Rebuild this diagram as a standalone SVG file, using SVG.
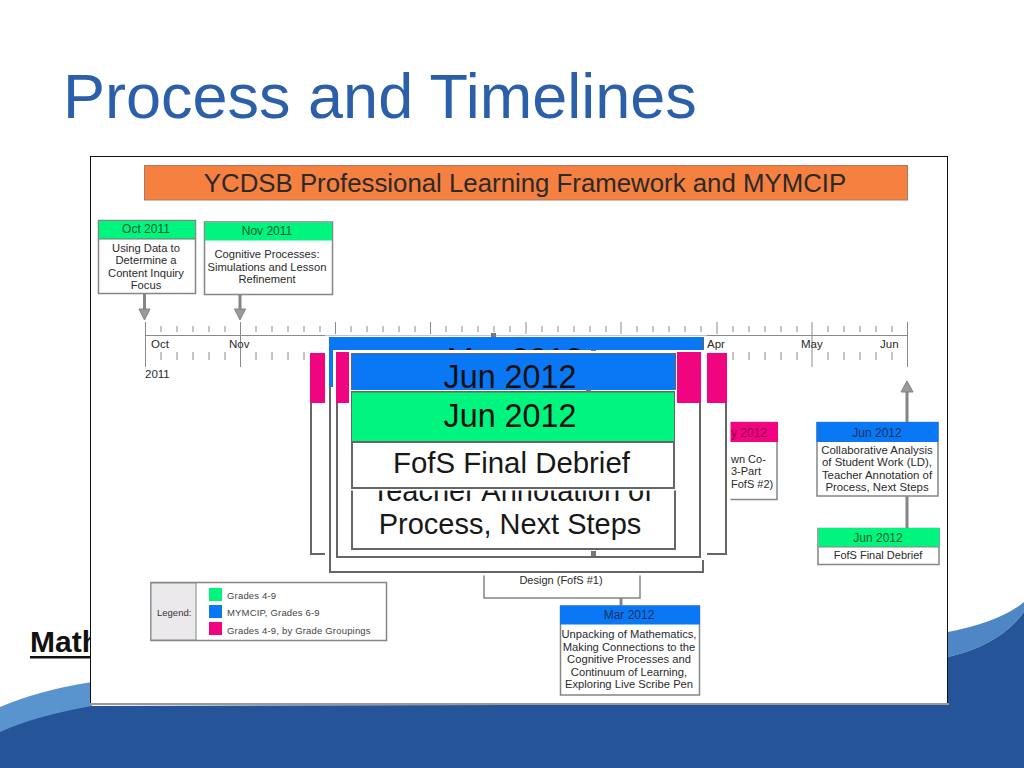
<svg xmlns="http://www.w3.org/2000/svg" width="1024" height="768" viewBox="0 0 1024 768">
<style>
text{font-family:"Liberation Sans",Arial,sans-serif;fill:#2a2a2a}
.c{text-anchor:middle}
.s{font-size:11.2px}
.t{font-size:11px}
.m{font-size:11.5px}
.h{font-size:12px;fill:#103060}
.hg{font-size:12px;fill:#0a5a30}
.hp{font-size:12px;fill:#900050}
.l{font-size:9.5px;letter-spacing:.18px;fill:#444}
.b{fill:#fff;stroke:#858585;stroke-width:1.5}
.bk{fill:#fff;stroke:#666;stroke-width:2}
.gr{fill:#00f57f}.bl{fill:#0a78f5}.pk{fill:#f0047f}
.big{font-size:32.300px;fill:#101010}
.mid{font-size:29px;fill:#181818}
.tick{stroke:#8a8a8a;stroke-width:1;fill:none}
.conn{stroke:#858585;stroke-width:3;fill:none}
.head{fill:#9a9a9a;stroke:#808080;stroke-width:1}
</style>
<rect width="1024" height="768" fill="#fff"/>
<g id="background">
<path d="M0 707Q40 690 92 682L92 712L0 735Z" fill="#5a94cf"/>
<path d="M948 632Q1000 622 1024 602L1024 612Q1000 645 948 657Z" fill="#4f86c6"/>
<path d="M0 732Q35 716 92 706L948 704L948 657Q1000 645 1024 612L1024 768L0 768Z" fill="#255499"/>
</g>
<text id="title" x="63" y="118" font-size="63" style="fill:#2b5fa9">Process and Timelines</text>
<g id="logo">
<text x="30" y="652" font-size="30" font-weight="700" style="fill:#111">Math</text>
<rect x="30" y="656" width="62" height="2.500" fill="#111"/>
</g>
<g id="panel">
<rect x="90.500" y="156.500" width="857" height="547" fill="#fff" stroke="#111" stroke-width="1"/>
<path d="M90 704H949" stroke="#999" stroke-width="2"/>
</g>
<g id="banner">
<rect x="144.500" y="165.500" width="763" height="34.500" fill="#f58040" stroke="#a87a60"/>
<text class="c" x="525" y="192" font-size="25.800">YCDSB Professional Learning Framework and MYMCIP</text>
</g>
<g id="timeline">
<path class="tick" d="M145 335.500H908M145.500 322V367M240.500 322V367M335.500 322V334M430.500 322V334M526 322V334M621 322V334M717 322V334M812 322V367M907.500 322V367"/>
<path class="tick" d="M161 326V332M177 326V332M193 326V332M209 326V332M225 326V332M256 326V332M272 326V332M288 326V332M304 326V332M320 326V332M351 326V332M367 326V332M383 326V332M399 326V332M415 326V332M446 326V332M462 326V332M478 326V332M494 326V332M510 326V332M542 326V332M558 326V332M574 326V332M590 326V332M606 326V332M637 326V332M653 326V332M669 326V332M685 326V332M701 326V332M733 326V332M749 326V332M765 326V332M781 326V332M797 326V332M828 326V332M844 326V332M860 326V332M876 326V332M892 326V332"/>
<path class="tick" d="M161 352V360M177 352V360M193 352V360M209 352V360M225 352V360M256 352V360M272 352V360M288 352V360M304 352V360M733 352V360M749 352V360M765 352V360M781 352V360M797 352V360M828 352V360M844 352V360M860 352V360M876 352V360M892 352V360"/>
<text class="m" x="151" y="348">Oct</text>
<text class="m" x="229" y="348">Nov</text>
<text class="m" x="707" y="348">Apr</text>
<text class="m" x="801" y="348">May</text>
<text class="m" x="880" y="348">Jun</text>
<text class="m" x="145" y="378">2011</text>
</g>
<g id="connectors">
<path class="conn" d="M144.500 294V310M240 295V310M907 392V422M907 496V528M621 598V606"/>
<path class="head" d="M139 309H150L144.500 320ZM234.500 309H245.500L240 320ZM901 392H913L907 381Z"/>
</g>
<g id="node-oct-2011">
<rect class="b" x="98.500" y="220.500" width="97" height="73"/>
<rect class="gr" x="99" y="221" width="96" height="18"/>
<path d="M99 239H195" stroke="#777"/>
<text class="hg c" x="146" y="233">Oct 2011</text>
<text class="s c" x="146" y="252">Using Data to</text>
<text class="s c" x="146" y="264">Determine a</text>
<text class="s c" x="146" y="277">Content Inquiry</text>
<text class="s c" x="146" y="289">Focus</text>
</g>
<g id="node-nov-2011">
<rect class="b" x="204.500" y="222" width="128" height="72.500"/>
<rect class="gr" x="205" y="222.500" width="127" height="18"/>
<text class="hg c" x="267" y="235">Nov 2011</text>
<text class="s c" x="267" y="258">Cognitive Processes:</text>
<text class="s c" x="267" y="271">Simulations and Lesson</text>
<text class="s c" x="267" y="283">Refinement</text>
</g>
<g id="node-may-2012">
<rect class="b" x="700" y="422.500" width="77" height="77"/>
<rect class="pk" x="700" y="422" width="78" height="20"/>
<rect x="727" y="420" width="3.500" height="82" fill="#fff"/>
<text class="hp" x="731" y="437">y 2012</text>
<text class="t" x="731" y="463">wn Co-</text>
<text class="t" x="731" y="475">3-Part</text>
<text class="t" x="731" y="488">FofS #2)</text>
</g>
<g id="node-jun-2012-blue">
<rect class="b" x="817" y="422.500" width="121" height="73.500"/>
<rect class="bl" x="816.500" y="422" width="122" height="20"/>
<text class="h c" x="877" y="437">Jun 2012</text>
<text class="s c" x="877" y="454" style="font-size:11.400px">Collaborative Analysis</text>
<text class="s c" x="877" y="466" style="font-size:11.400px">of Student Work (LD),</text>
<text class="s c" x="877" y="479" style="font-size:11.400px">Teacher Annotation of</text>
<text class="s c" x="877" y="491" style="font-size:11.400px">Process, Next Steps</text>
</g>
<g id="node-jun-2012-green">
<rect class="b" x="818" y="528.500" width="121" height="36"/>
<rect class="gr" x="818.500" y="528" width="121" height="19"/>
<path d="M818 547H939" stroke="#888"/>
<text class="hg c" x="878" y="542">Jun 2012</text>
<text class="t c" x="878" y="559">FofS Final Debrief</text>
</g>
<g id="node-design">
<rect class="b" x="484" y="540" width="156" height="58"/>
<text class="t c" x="561" y="584">Design (FofS #1)</text>
</g>
<g id="node-mar-2012">
<rect class="b" x="560.500" y="606" width="139" height="89"/>
<rect class="bl" x="560" y="605.500" width="140" height="19"/>
<text class="h c" x="629" y="619">Mar 2012</text>
<text class="s c" x="629" y="638">Unpacking of Mathematics,</text>
<text class="s c" x="629" y="651">Making Connections to the</text>
<text class="s c" x="629" y="663">Cognitive Processes and</text>
<text class="s c" x="629" y="676">Continuum of Learning,</text>
<text class="s c" x="629" y="688">Exploring Live Scribe Pen</text>
</g>
<g id="legend">
<rect x="151" y="582.500" width="235.500" height="58" fill="#fff" stroke="#858585" stroke-width="1.500"/>
<rect x="151" y="583" width="45" height="57" fill="#ebe9ec" stroke="#858585"/>
<text x="157" y="616" font-size="9.500" style="fill:#333">Legend:</text>
<rect class="gr" x="209" y="588" width="13" height="13"/>
<rect class="bl" x="209" y="605" width="13" height="13"/>
<rect class="pk" x="209" y="622" width="13" height="13"/>
<text class="l" x="227" y="599">Grades 4-9</text>
<text class="l" x="227" y="616">MYMCIP, Grades 6-9</text>
<text class="l" x="227" y="634">Grades 4-9, by Grade Groupings</text>
</g>
<g id="enlarged-pink-back">
<rect class="bk" x="311" y="354" width="415" height="200"/>
<rect class="pk" x="310" y="353" width="417" height="50"/>
</g>
<g id="enlarged-mar-2012">
<rect x="325" y="335.500" width="382" height="240" fill="#fff"/>
<rect class="bk" x="330" y="338" width="373" height="234"/>
<rect class="bl" x="329" y="337" width="374" height="50"/>
<text class="big c" x="515" y="371">Mar 2012</text>
<rect x="491" y="333" width="5" height="4" fill="#777"/>
</g>
<g id="enlarged-pink-front">
<rect x="333" y="350" width="371" height="210" fill="#fff"/>
<rect class="bk" x="337" y="353" width="363" height="204"/>
<rect class="pk" x="336" y="352" width="365" height="51"/>
<rect x="591" y="350" width="5" height="4" fill="#777"/>
<rect x="591" y="549" width="5" height="7" fill="#777"/>
</g>
<g id="enlarged-jun-2012-blue">
<rect x="349" y="351" width="328" height="200" fill="#fff"/>
<rect class="bk" x="352" y="354" width="323" height="195"/>
<rect class="bl" x="352" y="354" width="323" height="37"/>
<text class="big c" x="510" y="388">Jun 2012</text>
<text class="mid c" x="512" y="501">Teacher Annotation of</text>
<text class="mid c" x="510" y="534">Process, Next Steps</text>
</g>
<g id="enlarged-jun-2012-green">
<rect x="349" y="390" width="328" height="100.500" fill="#fff"/>
<rect class="bk" x="352" y="392" width="322" height="96"/>
<rect class="gr" x="352" y="392.500" width="322" height="49.500"/>
<path d="M351 442H675" stroke="#666" stroke-width="2"/>
<rect x="586" y="389.500" width="5" height="2" fill="#777"/>
<text class="big c" x="510" y="427">Jun 2012</text>
<text class="mid c" x="511.500" y="473" style="font-size:29.400px">FofS Final Debrief</text>
</g>
</svg>
